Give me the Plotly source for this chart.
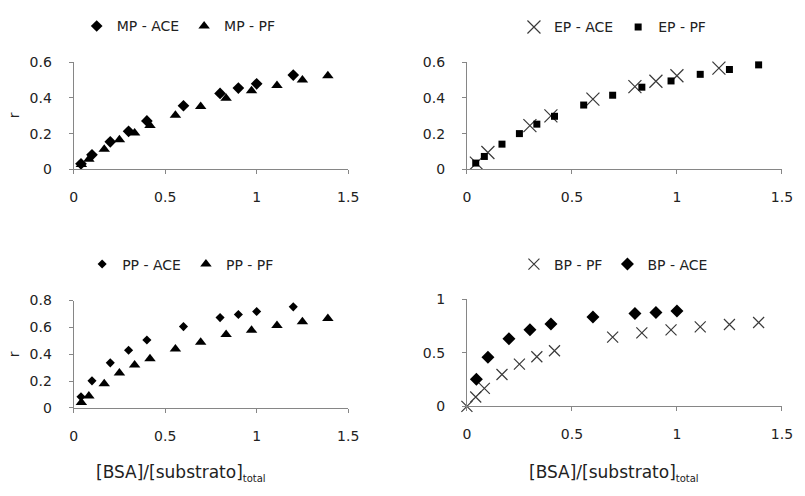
import plotly.graph_objects as go

# ---- data: r versus [BSA]/[substrato]total ----
x_ace = [0.04, 0.1, 0.2, 0.3, 0.4, 0.6, 0.8, 0.9, 1.0, 1.2]
x_pf = [0.042, 0.083, 0.167, 0.25, 0.333, 0.417, 0.556, 0.694, 0.833, 0.972, 1.111, 1.25, 1.389]

mp_ace = [0.031, 0.081, 0.154, 0.213, 0.271, 0.356, 0.425, 0.455, 0.479, 0.528]
mp_pf = [0.027, 0.056, 0.112, 0.165, 0.203, 0.246, 0.303, 0.352, 0.398, 0.44, 0.47, 0.5, 0.524]

ep_ace_x = [0.045, 0.1, 0.3, 0.4, 0.6, 0.8, 0.9, 1.0, 1.2]
ep_ace = [0.035, 0.094, 0.245, 0.299, 0.393, 0.463, 0.493, 0.524, 0.567]
ep_pf = [0.035, 0.072, 0.141, 0.2, 0.253, 0.297, 0.36, 0.415, 0.46, 0.495, 0.532, 0.559, 0.585]

pp_ace = [0.084, 0.202, 0.336, 0.43, 0.506, 0.606, 0.673, 0.696, 0.718, 0.753]
pp_pf = [0.04, 0.09, 0.18, 0.26, 0.32, 0.366, 0.44, 0.49, 0.547, 0.578, 0.614, 0.643, 0.667]

bp_pf_x = [0.0, 0.042, 0.083, 0.167, 0.25, 0.333, 0.417, 0.694, 0.833, 0.972, 1.111, 1.25, 1.389]
bp_pf = [0.0, 0.088, 0.168, 0.298, 0.395, 0.464, 0.52, 0.647, 0.686, 0.715, 0.742, 0.765, 0.783]
bp_ace_x = [0.045, 0.1, 0.2, 0.3, 0.4, 0.6, 0.8, 0.9, 1.0]
bp_ace = [0.254, 0.46, 0.631, 0.715, 0.769, 0.834, 0.867, 0.877, 0.89]

W, H = 805, 496
FONT = "DejaVu Sans"
AX = "#868686"
TXT = "#222222"


def px_x(a, b):
    return [a / W, b / W]


def px_y(top, bottom):
    return [1 - bottom / H, 1 - top / H]


fig = go.Figure()


def add(x, y, name, axis, legend, symbol, size, line=None):
    marker = dict(symbol=symbol, size=size, color="black")
    if line is not None:
        marker = dict(symbol=symbol, size=size, color="#3a3a3a",
                      line=dict(color="#3a3a3a", width=line))
    fig.add_trace(go.Scatter(
        x=x, y=y, name=name, mode="markers", marker=marker,
        xaxis="x" + axis, yaxis="y" + axis, legend=legend,
        cliponaxis=False, showlegend=True))


add(x_ace, mp_ace, "MP - ACE", "", "legend", "diamond", 9)
add(x_pf, mp_pf, "MP - PF", "", "legend", "triangle-up", 10)

add(ep_ace_x, ep_ace, "EP - ACE", "2", "legend2", "x-thin-open", 13, line=1.2)
add(x_pf, ep_pf, "EP - PF", "2", "legend2", "square", 7)

add(x_ace, pp_ace, "PP - ACE", "3", "legend3", "diamond", 7)
add(x_pf, pp_pf, "PP - PF", "3", "legend3", "triangle-up", 10)

add(bp_pf_x, bp_pf, "BP - PF", "4", "legend4", "x-thin-open", 11, line=1.2)
add(bp_ace_x, bp_ace, "BP - ACE", "4", "legend4", "diamond", 10)


def xax(domain, anchor):
    return dict(domain=domain, anchor=anchor, range=[0, 1.5], dtick=0.5, tick0=0,
                showline=True, linecolor=AX, linewidth=1, ticks="outside",
                ticklen=4, tickcolor=AX, showgrid=False, zeroline=False,
                ticklabelstandoff=11,
                tickfont=dict(family=FONT, size=14, color=TXT))


def yax(domain, anchor, top, dt):
    return dict(domain=domain, anchor=anchor, range=[0, top], dtick=dt, tick0=0,
                showline=True, linecolor=AX, linewidth=1, ticks="outside",
                ticklen=4, tickcolor=AX, showgrid=False, zeroline=False,
                ticklabelstandoff=14,
                tickfont=dict(family=FONT, size=14, color=TXT))


XL = px_x(71, 350.7)
XR = px_x(471.7, 792.7)

legend_base = dict(orientation="h", xanchor="center", yanchor="middle",
                   bgcolor="rgba(0,0,0,0)", itemwidth=30, tracegroupgap=0,
                   font=dict(family=FONT, size=14, color=TXT))

fig.update_layout(
    width=W, height=H, margin=dict(l=0, r=0, t=0, b=0),
    plot_bgcolor="white", paper_bgcolor="white",
    xaxis=xax(XL, "y"), yaxis=yax(px_y(56, 166.7), "x", 0.6, 0.2),
    xaxis2=xax(XR, "y2"), yaxis2=yax(px_y(56, 166.7), "x2", 0.6, 0.2),
    xaxis3=xax(XL, "y3"), yaxis3=yax(px_y(302.3, 413.3), "x3", 0.8, 0.2),
    xaxis4=xax(XR, "y4"), yaxis4=yax(px_y(301, 411.7), "x4", 1.0, 0.5),
    legend=dict(legend_base, x=178 / W, y=1 - 19 / H),
    legend2=dict(legend_base, x=620 / W, y=1 - 20 / H),
    legend3=dict(legend_base, x=180 / W, y=1 - 265 / H),
    legend4=dict(legend_base, x=621 / W, y=1 - 265 / H),
)

# y-axis titles
for yc in (111, 358):
    fig.add_annotation(text="r", xref="paper", yref="paper", x=11 / W, y=1 - yc / H,
                       xanchor="center", yanchor="middle",
                       textangle=-90, showarrow=False,
                       font=dict(family=FONT, size=14, color=TXT))

# x-axis titles
xtitle = "[BSA]/[substrato]<sub><span style='font-size:10px'>total</span></sub>"
for xc in (180, 622):
    fig.add_annotation(text=xtitle, xref="paper", yref="paper", x=xc / W, y=1 - 481 / H,
                       xanchor="center", yanchor="middle",
                       showarrow=False, font=dict(family=FONT, size=17, color=TXT))

fig.write_html("out.html")
